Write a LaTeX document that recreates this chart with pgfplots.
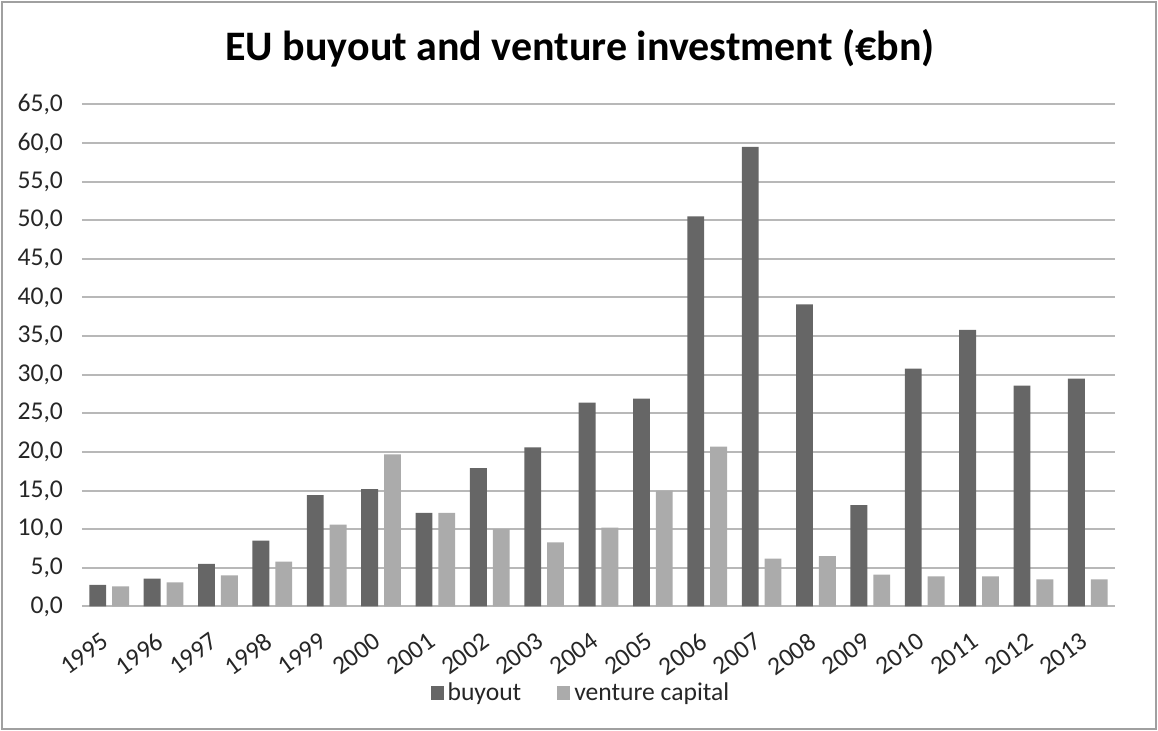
\documentclass[border=0pt]{standalone}
\usepackage{fontspec}
\setmainfont{Carlito}
\usepackage{pgfplots}
\pgfplotsset{compat=1.18}
\definecolor{buy}{HTML}{666666}
\definecolor{vc}{HTML}{ABABAB}
\definecolor{gridc}{HTML}{B8B8B8}
\definecolor{framec}{HTML}{A0A0A0}
\definecolor{txt}{HTML}{262626}
\begin{document}
\begin{tikzpicture}
\path[use as bounding box] (-41pt,-62.3pt) rectangle (538pt,303.2pt);
\draw[framec, line width=1pt] (-40pt,-61.3pt) rectangle (537pt,302.2pt);
\node[font=\bfseries\fontsize{21}{25}\selectfont, text=black, anchor=base] at (249pt,272.7pt) {EU buyout and venture investment (€bn)};
\begin{axis}[
  scale only axis, width=516.5pt, height=251pt,
  at={(0,0)}, anchor=south west,
  ymin=0, ymax=65, ytick={0,5,...,65},
  xmin=-0.5, xmax=18.5, xtick={0,...,18},
  xticklabels={1995,1996,1997,1998,1999,2000,2001,2002,2003,2004,2005,2006,2007,2008,2009,2010,2011,2012,2013},
  axis line style={draw=none}, major tick length=0pt,
  ymajorgrids, grid style={gridc, line width=1pt},
  /pgf/number format/.cd, fixed, fixed zerofill, precision=1, use comma, assume math mode=true,
  /pgfplots/.cd,
  tick label style={font=\fontsize{12.8}{15}\selectfont, text=txt},
  yticklabel style={xshift=-6pt},
  xticklabel style={xshift=-4pt, yshift=-11pt, rotate=36, anchor=north east, inner sep=1pt},
  bar width=0.31,
  legend style={at={(0.484,-0.172)}, anchor=center, draw=none, font=\fontsize{12.8}{15}\selectfont, text=txt, legend columns=2, column sep=0pt, inner sep=0pt,
    /tikz/every even column/.append style={column sep=16pt}},
  legend image code/.code={\fill[#1] (0pt,-3.6pt) rectangle (6.5pt,3.6pt);},
]
\addplot[ybar, fill=buy, draw=none, bar shift=-0.21] coordinates {
(0,2.8) (1,3.6) (2,5.5) (3,8.5) (4,14.4) (5,15.2) (6,12.1) (7,17.9) (8,20.6) (9,26.4)
(10,26.9) (11,50.5) (12,59.5) (13,39.1) (14,13.1) (15,30.8) (16,35.8) (17,28.6) (18,29.5)};
\addlegendentry{buyout}
\addplot[ybar, fill=vc, draw=none, bar shift=0.21] coordinates {
(0,2.6) (1,3.1) (2,4.0) (3,5.8) (4,10.6) (5,19.7) (6,12.1) (7,10.0) (8,8.3) (9,10.2)
(10,15.0) (11,20.7) (12,6.2) (13,6.5) (14,4.1) (15,3.9) (16,3.9) (17,3.5) (18,3.5)};
\addlegendentry{venture capital}
\end{axis}
\end{tikzpicture}
\end{document}
